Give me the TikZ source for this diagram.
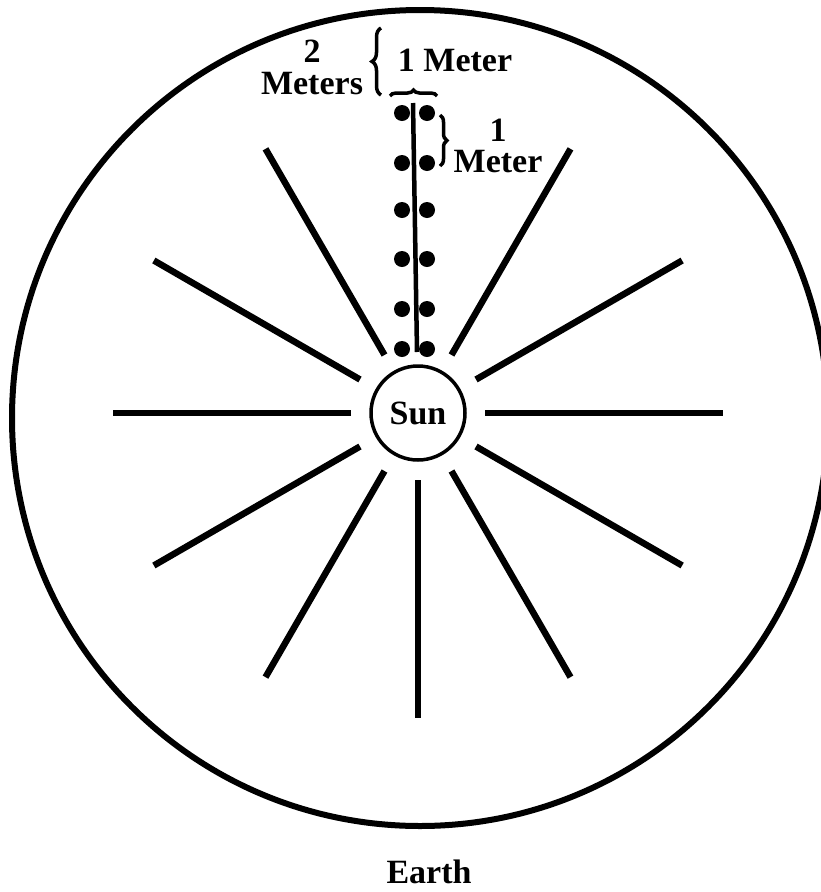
\documentclass[tikz,border=0pt]{standalone}
\usepackage{fontspec}
\setmainfont{Liberation Serif}
\usetikzlibrary{decorations.pathreplacing,calc}
\begin{document}
\begin{tikzpicture}[x=1pt,y=-1pt,
  spoke/.style={line width=6.5pt},
  dotmark/.style={fill=black,draw=none},
  lbl/.style={font=\fontsize{34}{31}\selectfont\bfseries,inner sep=0pt,align=center},
  bracemark/.style={line width=3.5pt,decorate,decoration={brace,amplitude=9pt}}]
\useasboundingbox (0,0) rectangle (820,892);
% earth circle
\draw[line width=6pt] (420,418) circle[radius=408];
% sun
\node[draw,circle,line width=3.5pt,minimum size=94pt,inner sep=0pt,font=\fontsize{34}{30}\selectfont\bfseries] (sun) at (418,413) {Sun};
% spokes
\foreach \a in {0,30,60,90,120,150,180,210,240,300,330}
  \draw[spoke] ($(sun.center)+(\a:67)$) -- ($(sun.center)+(\a:305)$);
% top spoke (with dots)
\coordinate (tb) at (417,352);
\coordinate (tt) at (413,103);
\draw[line width=4.5pt] (tb) -- (tt);
\foreach \y in {113,163,210,259,309,349} {
  \fill[dotmark] (402,\y) circle[radius=8];
  \fill[dotmark] (427,\y) circle[radius=8];
}
% braces
\draw[bracemark] (381,95) -- (381,28);
\draw[bracemark,decoration={brace,amplitude=6pt}] (390,96) -- (437,96);
\draw[bracemark,decoration={brace,amplitude=7pt}] (440,115) -- (440,166);
% labels
\node[lbl] (twom) at (312,67) {2\\[1pt]Meters};
\node[lbl] (onemtop) at (455,60) {1 Meter};
\node[lbl] (onemside) at (498,146) {1\\[0pt]Meter};
\node[lbl] (earth) at (429,872) {Earth};
\end{tikzpicture}
\end{document}
